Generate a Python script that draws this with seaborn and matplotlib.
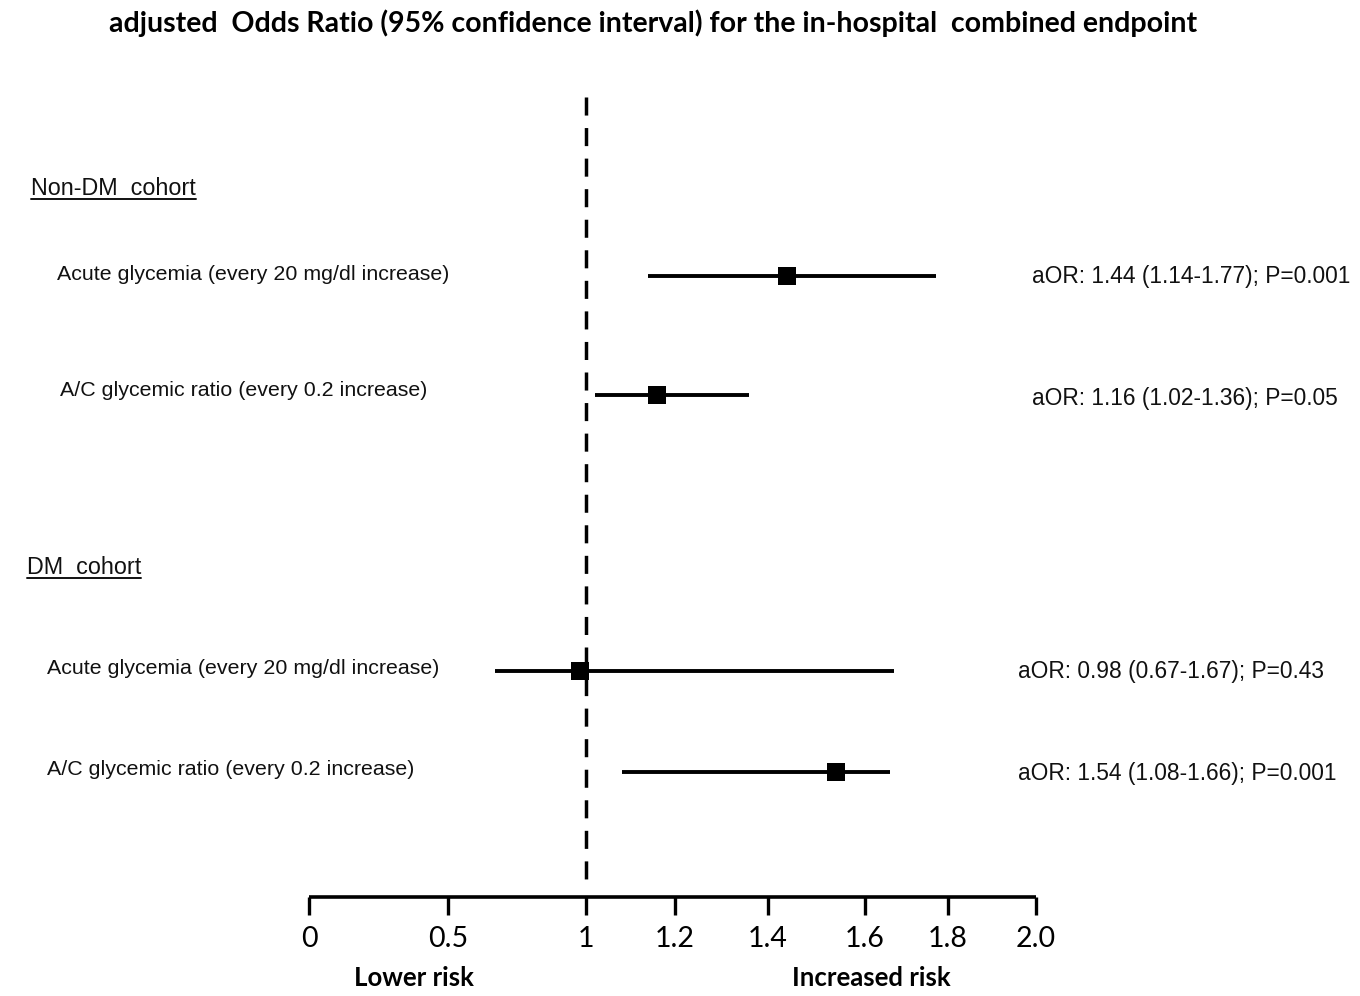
import numpy as np
import pandas as pd
import matplotlib
matplotlib.use("Agg")
import matplotlib.pyplot as plt
from matplotlib.lines import Line2D
import seaborn as sns

# ---- data -------------------------------------------------------------
title = "adjusted  Odds Ratio (95% confidence interval) for the in-hospital  combined endpoint"
cohort_headers = ["Non-DM  cohort", "DM  cohort"]
row_labels = [
    "Acute glycemia (every 20 mg/dl increase)",
    "A/C glycemic ratio (every 0.2 increase)",
    "Acute glycemia (every 20 mg/dl increase)",
    "A/C glycemic ratio (every 0.2 increase)",
]
odds_ratio = [1.44, 1.16, 0.98, 1.54]
ci_low = [1.14, 1.02, 0.67, 1.08]
ci_high = [1.77, 1.36, 1.67, 1.66]
p_values = ["0.001", "0.05", "0.43", "0.001"]
tick_values = [0, 0.5, 1, 1.2, 1.4, 1.6, 1.8, 2.0]
tick_labels = ["0", "0.5", "1", "1.2", "1.4", "1.6", "1.8", "2.0"]
risk_labels = ["Lower risk", "Increased risk"]

# ---- layout (pixel rows of the 1360x996 canvas) -------------------------
W, H = 1360, 996
row_y = [276, 395, 671, 772]
label_x = [57, 60, 47, 47]
label_y = [274, 391, 668, 769]
annot_x = [1032, 1032, 1018, 1018]
annot_y = [276, 398, 671, 773]
header_x = [31, 27]
header_baseline = [195, 574]
# relative spacing of the (non-uniform) axis breakpoints
axis_break_pos = [0, 139, 277, 366, 459, 556, 639, 727]

sns.set_theme(style="white")
plt.rcParams["font.family"] = ["Liberation Sans", "DejaVu Sans"]


def fx(px):
    return px / W


def fy(py):
    return 1 - py / H


def forward(x):
    return np.interp(x, tick_values, axis_break_pos)


def inverse(x):
    return np.interp(x, axis_break_pos, tick_values)


fig = plt.figure(figsize=(13.6, 9.96), dpi=100)
ax = fig.add_axes([fx(309), fy(897), fx(1036) - fx(309), fy(97) - fy(897)])
ax.set_xscale("function", functions=(forward, inverse))

df = pd.DataFrame({
    "label": row_labels,
    "aOR": odds_ratio,
    "low": ci_low,
    "high": ci_high,
    "row": row_y,
})

# reference line at OR = 1
ax.plot([1, 1], [97, 885], color="black", lw=2.5, dashes=(5.2, 3.6),
        solid_capstyle="butt", dash_capstyle="butt", zorder=1)

# confidence intervals and point estimates
ax.hlines(df["row"], df["low"], df["high"], color="black", lw=2.8, zorder=2)
sns.scatterplot(data=df, x="aOR", y="row", marker="s", s=150, color="black",
                edgecolor="black", linewidth=0, legend=False, ax=ax, zorder=3)

ax.set_xlim(0, 2.0)
ax.set_ylim(897, 97)
ax.set_xlabel("")
ax.set_ylabel("")
ax.set_yticks([])
ax.set_xticks(tick_values)
ax.set_xticklabels(tick_labels, fontfamily="Lato", fontsize=20.5)
ax.tick_params(axis="x", direction="out", length=13, width=2.4, pad=8,
               colors="black", bottom=True)
for side in ["top", "right", "left"]:
    ax.spines[side].set_visible(False)
ax.spines["bottom"].set_linewidth(2.6)
ax.spines["bottom"].set_color("black")
ax.spines["bottom"].set_capstyle("butt")
ax.patch.set_alpha(0)

# row labels and annotations
for i in range(len(row_labels)):
    fig.text(fx(label_x[i]), fy(label_y[i]), row_labels[i], fontsize=15.4,
             ha="left", va="center", color="#111111")
    txt = f"aOR: {odds_ratio[i]:.2f} ({ci_low[i]:.2f}-{ci_high[i]:.2f}); P={p_values[i]}"
    fig.text(fx(annot_x[i]), fy(annot_y[i]), txt, fontsize=16.4,
             ha="left", va="center", color="#111111")

# underlined cohort headers
headers = []
for i, h in enumerate(cohort_headers):
    headers.append(fig.text(fx(header_x[i]), fy(header_baseline[i]), h,
                            fontsize=16.8, ha="left", va="baseline", color="#111111"))

fig.text(fx(653), fy(23), title, fontfamily="Lato", fontweight="bold",
         fontsize=20.5, ha="center", va="center", color="black")
fig.text(fx(414), fy(978), risk_labels[0], fontfamily="Lato", fontweight="bold",
         fontsize=18.5, ha="center", va="center", color="black")
fig.text(fx(871), fy(978), risk_labels[1], fontfamily="Lato", fontweight="bold",
         fontsize=18.5, ha="center", va="center", color="black")

fig.canvas.draw()
renderer = fig.canvas.get_renderer()
for i, t in enumerate(headers):
    bb = t.get_window_extent(renderer)
    yline = fy(header_baseline[i] + 4)
    fig.add_artist(Line2D([bb.x0 / W, bb.x1 / W], [yline, yline],
                          transform=fig.transFigure, color="#111111", lw=1.4))

fig.savefig("out.png", dpi=100, facecolor="white")
